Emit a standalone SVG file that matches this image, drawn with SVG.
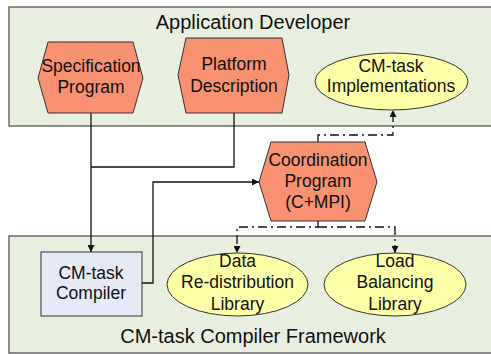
<svg xmlns="http://www.w3.org/2000/svg" width="491" height="354" viewBox="0 0 491 354">
<style>
.panel{fill:#e9efdf;stroke:#555;stroke-width:1.3}
.hex{fill:#f79172;stroke:#333;stroke-width:1}
.ell{fill:#ffffa8;stroke:#333;stroke-width:1}
.box{fill:#e4e9f5;stroke:#333;stroke-width:1}
text{font-family:"Liberation Sans",Arial,sans-serif;fill:#111;text-anchor:middle}
.t{font-size:17.5px}
.title{font-size:20px}
.c{fill:none;stroke:#111;stroke-width:1.3}
.dd{stroke-dasharray:9,4,2,4}
</style>
<defs>
<marker id="ah" viewBox="0 0 10 10" refX="10" refY="5" markerWidth="7" markerHeight="7" markerUnits="userSpaceOnUse" orient="auto">
<path d="M0,0 L10,5 L0,10 z" fill="#111"/>
</marker>
</defs>
<rect id="panel-app" class="panel" x="9" y="7" width="490" height="119"/>
<rect id="panel-fw" class="panel" x="9" y="236" width="490" height="117"/>
<text class="title" x="253" y="29">Application Developer</text>
<text class="title" x="253" y="343">CM-task Compiler Framework</text>
<g id="connectors">
<path class="c" d="M91,113 V252" marker-end="url(#ah)"/>
<path class="c" d="M234,113 V167 H91"/>
<path class="c" d="M142,283 H153 V182 H259" marker-end="url(#ah)"/>
<path class="c dd" d="M318,142 V135 H393 V110" marker-end="url(#ah)"/>
<path class="c dd" d="M318,221 V227 H237 V253" marker-end="url(#ah)"/>
<path class="c dd" d="M318,227 H395 V253" marker-end="url(#ah)"/>
</g>
<g id="spec">
<polygon class="hex" points="48,42 133,42 143,78 133,113 48,113 38,78"/>
<text class="t" x="91" y="72">Specification</text>
<text class="t" x="91" y="93">Program</text>
</g>
<g id="platform">
<polygon class="hex" points="186,38 282,38 289,75 282,113 186,113 178,75"/>
<text class="t" x="234" y="70">Platform</text>
<text class="t" x="234" y="92">Description</text>
</g>
<g id="impl">
<ellipse class="ell" cx="391.5" cy="81.5" rx="76.5" ry="28.5"/>
<text class="t" x="391" y="72">CM-task</text>
<text class="t" x="391" y="92">Implementations</text>
</g>
<g id="coord">
<polygon class="hex" points="271,142 365,142 377,182 365,221 271,221 259,182"/>
<text class="t" x="318" y="166">Coordination</text>
<text class="t" x="318" y="187">Program</text>
<text class="t" x="318" y="208">(C+MPI)</text>
</g>
<g id="compiler">
<rect class="box" x="41" y="252" width="101" height="64"/>
<text class="t" x="91" y="279">CM-task</text>
<text class="t" x="91" y="299">Compiler</text>
</g>
<g id="data">
<ellipse class="ell" cx="237.5" cy="284.5" rx="70.5" ry="31.5"/>
<text class="t" x="237.5" y="267">Data</text>
<text class="t" x="237.5" y="288">Re-distribution</text>
<text class="t" x="237.5" y="310">Library</text>
</g>
<g id="load">
<ellipse class="ell" cx="395" cy="284.5" rx="71" ry="31.5"/>
<text class="t" x="395" y="267">Load</text>
<text class="t" x="395" y="288">Balancing</text>
<text class="t" x="395" y="310">Library</text>
</g>
</svg>
